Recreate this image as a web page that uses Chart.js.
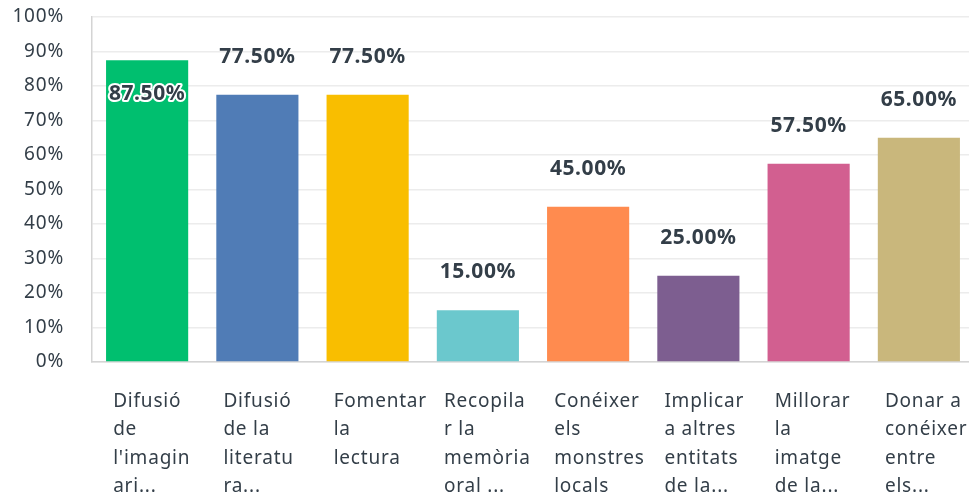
<!DOCTYPE html>
<html>
<head>
<meta charset="utf-8">
<script src="https://cdn.jsdelivr.net/npm/chart.js@4/dist/chart.umd.min.js"></script>
<style>
html,body{margin:0;padding:0;background:#fff;overflow:hidden;}
canvas{display:block;}
</style>
</head>
<body>
<canvas id="c" width="974" height="498"></canvas>
<script>
const categories = [
  ["Difusió","de","l'imagin","ari..."],
  ["Difusió","de la","literatu","ra..."],
  ["Fomentar","la","lectura"],
  ["Recopila","r la","memòria","oral ..."],
  ["Conéixer","els","monstres","locals"],
  ["Implicar","a altres","entitats","de la..."],
  ["Millorar","la","imatge","de la..."],
  ["Donar a","conéixer","entre","els..."]
];
const values = [87.5, 77.5, 77.5, 15, 45, 25, 57.5, 65];
const barColors = ["#00bf6f","#507cb6","#f9be00","#6bc8cd","#ff8b4f","#7d5e90","#d25f90","#c9b77c"];
const yTicks = [0,10,20,30,40,50,60,70,80,90,100];

const textColor = "#333e48";
const fontFamily = "'Noto Sans', 'Open Sans', sans-serif";

const spacingPlugin = {
  id: 'spacing',
  beforeDraw(chart){ chart.ctx.letterSpacing = '0.8px'; },
  beforeLayout(chart){ chart.ctx.letterSpacing = '0.8px'; }
};

const labelPlugin = {
  id: 'valueLabels',
  afterDatasetsDraw(chart){
    const ctx = chart.ctx;
    const meta = chart.getDatasetMeta(0);
    ctx.save();
    ctx.letterSpacing = '0.6px';
    ctx.font = "bold 21px " + fontFamily;
    ctx.textAlign = 'center';
    ctx.textBaseline = 'middle';
    meta.data.forEach((bar, i) => {
      const txt = values[i].toFixed(2) + '%';
      let y = bar.y - 38;
      let inside = false;
      if (y - 12 < chart.chartArea.top) { y = bar.y + 34; inside = true; }
      if (inside) {
        ctx.lineJoin = 'round';
        ctx.lineWidth = 4;
        ctx.strokeStyle = '#ffffff';
        ctx.strokeText(txt, bar.x, y);
      }
      ctx.fillStyle = textColor;
      ctx.fillText(txt, bar.x, y);
    });
    ctx.restore();
  }
};

new Chart(document.getElementById('c'), {
  type: 'bar',
  data: {
    labels: categories,
    datasets: [{
      data: values,
      backgroundColor: barColors,
      borderWidth: 0,
      barPercentage: 0.745,
      categoryPercentage: 1.0
    }]
  },
  options: {
    responsive: false,
    animation: false,
    layout: { padding: { top: 17, left: 0, right: 0, bottom: 0 } },
    plugins: { legend: { display: false }, tooltip: { enabled: false } },
    scales: {
      x: {
        grid: { display: false, drawTicks: false },
        border: { display: true, color: '#d4d4d4', width: 1.5 },
        ticks: {
          autoSkip: false,
          maxRotation: 0,
          minRotation: 0,
          align: 'start',
          labelOffset: -34,
          padding: 25,
          color: textColor,
          font: { family: fontFamily, size: 19, lineHeight: 1.5 }
        },
        afterFit(scale){
          scale.height = 136;
          scale.paddingLeft = 0; scale.paddingRight = 0;
          scale.paddingTop = 0; scale.paddingBottom = 0;
        }
      },
      y: {
        min: 0, max: 100,
        afterBuildTicks(scale){ scale.ticks = yTicks.map(v => ({ value: v })); },
        grid: { color: '#ececec', lineWidth: 1.5, drawTicks: false },
        border: { display: true, color: '#d4d4d4', width: 1.5 },
        ticks: {
          padding: 28,
          color: textColor,
          font: { family: fontFamily, size: 19 },
          callback: v => v + '%'
        },
        afterFit(scale){
          scale.width = 92;
          scale.paddingTop = 0; scale.paddingBottom = 0;
          scale.paddingLeft = 0; scale.paddingRight = 0;
        }
      }
    }
  },
  plugins: [spacingPlugin, labelPlugin]
});
</script>
</body>
</html>
